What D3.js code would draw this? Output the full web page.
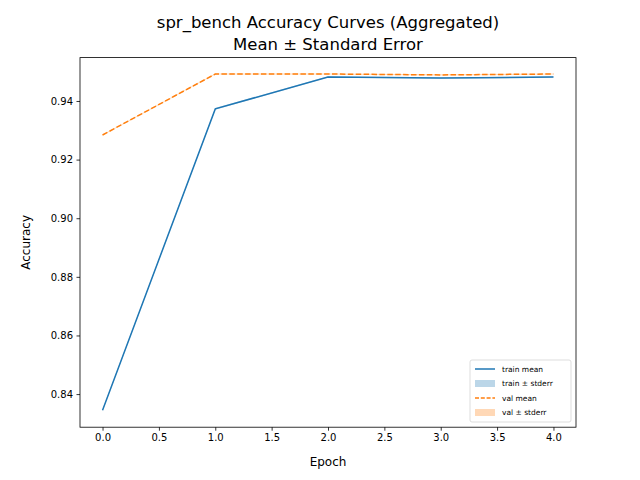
<!DOCTYPE html>
<html lang="en">
<head>
<meta charset="UTF-8">
<script src="https://d3js.org/d3.v7.min.js"></script>
<style>body{margin:0;background:#fff;font-family:"DejaVu Sans",sans-serif;}</style>
</head>
<body>
<div id="container"></div>
<script>
var epochs = [0, 1, 2, 3, 4];
var trainMean = [0.8345, 0.9373, 0.9482, 0.9478, 0.9482];
var trainErr = [0.0003, 0.0003, 0.0002, 0.0002, 0.0002];
var valMean = [0.9284, 0.9492, 0.9492, 0.9489, 0.9492];
var valErr = [0.0002, 0.0002, 0.0002, 0.0002, 0.0002];
var xTicks = [0, 0.5, 1, 1.5, 2, 2.5, 3, 3.5, 4];
var yTicks = [0.84, 0.86, 0.88, 0.90, 0.92, 0.94];

var W = 640, H = 480, L = 80, R = 576, T = 57.6, B = 427.2;
var svg = d3.select("#container").append("svg").attr("width", W).attr("height", H);
var x = d3.scaleLinear().domain([-0.2, 4.2]).range([L, R]);
var y = d3.scaleLinear().domain([0.8287, 0.9548]).range([B, T]);

function band(m, e, c) {
    svg.append("path").datum(epochs)
        .attr("d", d3.area().x(function (d) { return x(d); })
            .y0(function (d, i) { return y(m[i] - e[i]); })
            .y1(function (d, i) { return y(m[i] + e[i]); }))
        .attr("fill", c).attr("opacity", 0.3);
}
function line(m, c, dash) {
    svg.append("path").datum(epochs)
        .attr("d", d3.line().x(function (d) { return x(d); }).y(function (d, i) { return y(m[i]); }))
        .attr("fill", "none").attr("stroke", c).attr("stroke-width", 1.5)
        .attr("stroke-dasharray", dash);
}
band(trainMean, trainErr, "#1f77b4");
line(trainMean, "#1f77b4", null);
band(valMean, valErr, "#ff7f0e");
line(valMean, "#ff7f0e", "5.5,2.4");

var xa = svg.append("g").attr("transform", "translate(0," + B + ")")
    .call(d3.axisBottom(x).tickValues(xTicks).tickFormat(d3.format(".1f")).tickSizeOuter(0).tickSize(3.5).tickPadding(3.5));
var ya = svg.append("g").attr("transform", "translate(" + L + ",0)")
    .call(d3.axisLeft(y).tickValues(yTicks).tickFormat(d3.format(".2f")).tickSizeOuter(0).tickSize(3.5).tickPadding(3.5));
[xa, ya].forEach(function (a) {
    a.select(".domain").remove();
    a.selectAll("text").attr("font-size", 10).attr("font-family", "DejaVu Sans").attr("fill", "#000");
    a.selectAll("line").attr("stroke", "#000").attr("stroke-width", 0.8);
});
svg.append("rect").attr("x", L).attr("y", T).attr("width", R - L).attr("height", B - T)
    .attr("fill", "none").attr("stroke", "#000").attr("stroke-width", 0.8);

svg.append("text").attr("x", (L + R) / 2).attr("y", 466).attr("text-anchor", "middle").attr("font-size", 12).text("Epoch");
svg.append("text").attr("transform", "translate(30," + (T + B) / 2 + ") rotate(-90)").attr("text-anchor", "middle").attr("font-size", 12).text("Accuracy");
svg.append("text").attr("x", (L + R) / 2).attr("y", 28).attr("text-anchor", "middle").attr("font-size", 16.5).text("spr_bench Accuracy Curves (Aggregated)");
svg.append("text").attr("x", (L + R) / 2).attr("y", 49.5).attr("text-anchor", "middle").attr("font-size", 16.5).text("Mean ± Standard Error");

var lg = svg.append("g").attr("transform", "translate(470,360)");
lg.append("rect").attr("width", 101).attr("height", 62).attr("rx", 2).attr("fill", "#fff")
    .attr("stroke", "#ccc").attr("stroke-width", 0.8).attr("opacity", 0.8);
var items = [
    {label: "train mean", c: "#1f77b4", type: "line", dash: null},
    {label: "train ± stderr", c: "#1f77b4", type: "patch"},
    {label: "val mean", c: "#ff7f0e", type: "line", dash: "4,1.8"},
    {label: "val ± stderr", c: "#ff7f0e", type: "patch"}
];
items.forEach(function (it, i) {
    var cy = 9 + i * 14.5;
    if (it.type === "line") {
        lg.append("line").attr("x1", 5).attr("x2", 25).attr("y1", cy).attr("y2", cy)
            .attr("stroke", it.c).attr("stroke-width", 1.5).attr("stroke-dasharray", it.dash);
    } else {
        lg.append("rect").attr("x", 5).attr("y", cy - 3.5).attr("width", 20).attr("height", 7)
            .attr("fill", it.c).attr("opacity", 0.3);
    }
    lg.append("text").attr("x", 32).attr("y", cy + 2.7).attr("font-size", 7.5).text(it.label);
});
</script>
</body>
</html>
